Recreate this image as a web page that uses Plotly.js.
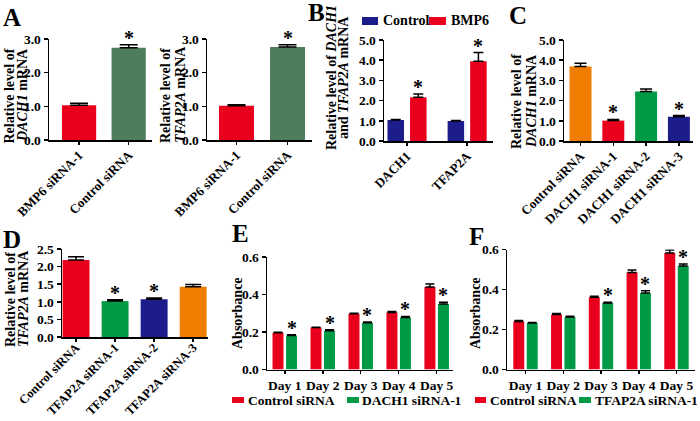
<!DOCTYPE html>
<html><head><meta charset="utf-8">
<script src="https://cdn.plot.ly/plotly-3.0.1.min.js"></script>
<style>html,body{margin:0;padding:0;background:#fff}#chart{width:700px;height:421px}</style>
</head><body><div id="chart"></div>
<script>
// ---------------- data ----------------
const catsA1 = ['BMP6 siRNA-1', 'Control siRNA'];
const valsA1 = [1.03, 2.74];
const errA1  = [0.06, 0.09];
const sigA1  = [false, true];

const catsA2 = ['BMP6 siRNA-1', 'Control siRNA'];
const valsA2 = [1.02, 2.76];
const errA2  = [0.03, 0.07];
const sigA2  = [false, true];

const catsB   = ['DACH1', 'TFAP2A'];
const ctrlB   = [1.04, 0.99];
const ctrlBErr= [0.03, 0.03];
const bmp6B   = [2.16, 3.95];
const bmp6BErr= [0.17, 0.43];
const sigB    = [true, true];

const catsC = ['Control siRNA', 'DACH1 siRNA-1', 'DACH1 siRNA-2', 'DACH1 siRNA-3'];
const valsC = [3.69, 1.01, 2.45, 1.20];
const errC  = [0.16, 0.06, 0.12, 0.06];
const sigC  = [false, true, false, true];

const catsD = ['Control siRNA', 'TFAP2A siRNA-1', 'TFAP2A siRNA-2', 'TFAP2A siRNA-3'];
const valsD = [2.19, 1.02, 1.07, 1.43];
const errD  = [0.09, 0.04, 0.04, 0.06];
const sigD  = [false, true, true, false];

const days     = ['Day 1', 'Day 2', 'Day 3', 'Day 4', 'Day 5'];
const ctrlE    = [0.196, 0.224, 0.297, 0.304, 0.440];
const ctrlEErr = [0.003, 0.002, 0.003, 0.005, 0.016];
const dachE    = [0.182, 0.207, 0.250, 0.277, 0.349];
const dachEErr = [0.004, 0.005, 0.004, 0.006, 0.010];
const sigE     = [true, true, true, true, true];

const ctrlF    = [0.240, 0.275, 0.361, 0.485, 0.582];
const ctrlFErr = [0.005, 0.005, 0.005, 0.012, 0.015];
const tfapF    = [0.233, 0.262, 0.332, 0.382, 0.518];
const tfapFErr = [0.002, 0.004, 0.004, 0.012, 0.010];
const sigF     = [false, false, true, true, true];

// y tick values
const yTicksA  = [0, 1, 2, 3];
const yTicksBC = [0, 1, 2, 3, 4, 5];
const yTicksD  = [0, 0.5, 1, 1.5, 2, 2.5];
const yTicksEF = [0, 0.2, 0.4, 0.6];

// ---------------- styles ----------------
const W = 700, H = 421;
const fx = p => p / W;
const fy = p => 1 - p / H;
const FONT = 'Liberation Serif, Times New Roman, serif';
const RED = '#E8001C', DGREEN = '#4E7D5C', NAVY = '#1C1C8C', ORANGE = '#F07D00', GREEN = '#009A46';
const colA = [RED, DGREEN];
const colC = [ORANGE, RED, GREEN, NAVY];
const colD = [RED, GREEN, NAVY, ORANGE];
const b = s => '<b>' + s + '</b>';

function yax(top, bottom, ticks, anchor) {
  return {domain: [fy(bottom), fy(top)], range: [ticks[0], ticks[ticks.length - 1]],
    tickmode: 'array', tickvals: ticks, ticktext: ticks.map(v => b(v.toFixed(1))),
    anchor: anchor, showline: true, linecolor: '#000', linewidth: 1.5, ticks: 'outside', ticklen: 4,
    tickwidth: 1.5, tickcolor: '#000', showgrid: false, zeroline: false, automargin: false, fixedrange: true,
    tickfont: {family: FONT, size: 13.5, weight: 'bold', color: '#000'}};
}
function xax(left, right, range, cats, anchor, angle, standoff, size) {
  return {domain: [fx(left), fx(right)], range: range, type: 'category', anchor: anchor,
    tickmode: 'array', tickvals: cats, ticktext: cats.map(b),
    showline: true, linecolor: '#000', linewidth: 1.5, ticks: 'outside', ticklen: 3, tickwidth: 1.5,
    tickcolor: '#000', showgrid: false, zeroline: false, automargin: false, fixedrange: true, tickangle: angle,
    ticklabelstandoff: standoff || 0,
    tickfont: {family: FONT, size: size || 13, weight: 'bold', color: '#000'}};
}
function bar(xa, ya, cats, vals, errs, colors, width, cap, offset) {
  const t = {type: 'bar', xaxis: xa, yaxis: ya, x: cats, y: vals, width: width,
    marker: {color: colors, line: {width: 0}},
    error_y: {type: 'data', array: errs, arrayminus: errs.map(() => 0), symmetric: false,
      color: '#000', thickness: 1.5, width: cap},
    showlegend: false, hoverinfo: 'skip'};
  if (offset !== undefined) t.offset = offset;
  return t;
}
const annotations = [];
function stars(xa, ya, vals, errs, sig, shift) {
  vals.forEach((v, i) => {
    if (!sig[i]) return;
    annotations.push({xref: xa, yref: ya, x: i + shift, y: v + errs[i], text: '*', showarrow: false,
      xanchor: 'center', yanchor: 'bottom', yshift: -6,
      font: {family: FONT, size: 20, weight: 'bold', color: '#000'}});
  });
}
function label(text, cx, cy, size, angle, anchor) {
  annotations.push({xref: 'paper', yref: 'paper', x: fx(cx), y: fy(cy), text: b(text), showarrow: false,
    textangle: angle || 0, xanchor: anchor || 'center', yanchor: 'middle',
    font: {family: FONT, size: size, weight: 'bold', color: '#000'}});
}

const BW = 0.29, GO = 0.178;  // grouped bar width and center offset
const traces = [
  bar('x', 'y', catsA1, valsA1, errA1, colA, 0.69, 9),
  bar('x2', 'y2', catsA2, valsA2, errA2, colA, 0.686, 9),
  bar('x3', 'y3', catsB, ctrlB, ctrlBErr, NAVY, 0.275, 5, -0.1875 - 0.1375),
  bar('x3', 'y3', catsB, bmp6B, bmp6BErr, RED, 0.275, 5, 0.1875 - 0.1375),
  bar('x4', 'y4', catsC, valsC, errC, colC, 0.67, 6),
  bar('x5', 'y5', catsD, valsD, errD, colD, 0.69, 8),
  bar('x6', 'y6', days, ctrlE, ctrlEErr, RED, BW, 4.5, -GO - BW / 2),
  bar('x6', 'y6', days, dachE, dachEErr, GREEN, BW, 4.5, GO - BW / 2),
  bar('x7', 'y7', days, ctrlF, ctrlFErr, RED, BW, 4.5, -GO - BW / 2),
  bar('x7', 'y7', days, tfapF, tfapFErr, GREEN, BW, 4.5, GO - BW / 2)
];

stars('x', 'y', valsA1, errA1, sigA1, 0);
stars('x2', 'y2', valsA2, errA2, sigA2, 0);
stars('x3', 'y3', bmp6B, bmp6BErr, sigB, 0.1875);
stars('x4', 'y4', valsC, errC, sigC, 0);
stars('x5', 'y5', valsD, errD, sigD, 0);
stars('x6', 'y6', dachE, dachEErr, sigE, GO);
stars('x7', 'y7', tfapF, tfapFErr, sigF, GO);

// axis titles
label('Relative level of', 9.5, 96, 14, -90);
label('<i>DACH1</i> mRNA', 23, 95, 14, -90);
label('Relative level of', 166, 96, 14, -90);
label('<i>TFAP2A</i> mRNA', 181, 95, 14, -90);
label('Relative level of <i>DACH1</i>', 332, 78, 14, -90);
label('and <i>TFAP2A</i> mRNA', 344, 78, 14, -90);
label('Relative level of', 516, 102, 14, -90);
label('<i>DACH1</i> mRNA', 531, 101, 14, -90);
label('Relative level of', 10, 300, 14, -90);
label('<i>TFAP2A</i> mRNA', 23, 299, 14, -90);
label('Absorbance', 237, 313, 14, -90);
label('Absorbance', 475, 313, 14, -90);
// panel letters
label('A', 12, 17, 25);
label('B', 316, 13, 25);
label('C', 518, 15, 25);
label('D', 12, 239, 25);
label('E', 240, 234, 25);
label('F', 476, 236, 25);
// legends
const shapes = [];
function swatch(x0, x1, y0, y1, color) {
  shapes.push({type: 'rect', xref: 'paper', yref: 'paper', x0: fx(x0), x1: fx(x1), y0: fy(y1), y1: fy(y0),
    fillcolor: color, line: {width: 0}});
}
swatch(362, 378, 17, 25, NAVY); label('Control', 381, 21, 14, 0, 'left');
swatch(429, 446, 17, 25, RED);  label('BMP6', 449, 21, 14, 0, 'left');
swatch(232, 244, 397, 403, RED);   label('Control siRNA', 246, 400, 13.5, 0, 'left');
swatch(347, 359, 397, 403, GREEN); label('DACH1 siRNA-1', 360, 400, 13.5, 0, 'left');
swatch(475, 486, 397, 403, RED);   label('Control siRNA', 488, 400, 13.5, 0, 'left');
swatch(579, 591, 397, 403, GREEN); label('TFAP2A siRNA-1', 593, 400, 13.5, 0, 'left');

const layout = {
  width: W, height: H, margin: {l: 0, r: 0, t: 0, b: 0, pad: 0},
  paper_bgcolor: '#fff', plot_bgcolor: 'rgba(0,0,0,0)', barmode: 'overlay', showlegend: false,
  font: {family: FONT, color: '#000'},
  xaxis:  xax(49, 152, [-0.606, 1.47], catsA1, 'y', -45, -2),
  yaxis:  yax(39, 140, yTicksA, 'x'),
  xaxis2: xax(207, 312, [-0.578, 1.48], catsA2, 'y2', -45, -2),
  yaxis2: yax(39, 140, yTicksA, 'x2'),
  xaxis3: xax(384, 493, [-0.383, 1.43], catsB, 'y3', -45, -2),
  yaxis3: yax(40, 141, yTicksBC, 'x3'),
  xaxis4: xax(564, 693, [-0.503, 3.43], catsC, 'y4', -45, -2),
  yaxis4: yax(40, 141, yTicksBC, 'x4'),
  xaxis5: xax(62, 208, [-0.36, 3.38], catsD, 'y5', -45, -6, 12.5),
  yaxis5: yax(249, 337, yTicksD, 'x5'),
  xaxis6: xax(267, 453, [-0.468, 4.43], days, 'y6', 0, 0, 13.5),
  yaxis6: yax(257, 369.5, yTicksEF, 'x6'),
  xaxis7: xax(507, 695, [-0.49, 4.49], days, 'y7', 0, 0, 13.5),
  yaxis7: yax(249.5, 369.5, yTicksEF, 'x7'),
  annotations: annotations,
  shapes: shapes
};
Plotly.newPlot('chart', traces, layout, {staticPlot: true, displayModeBar: false});
</script></body></html>
